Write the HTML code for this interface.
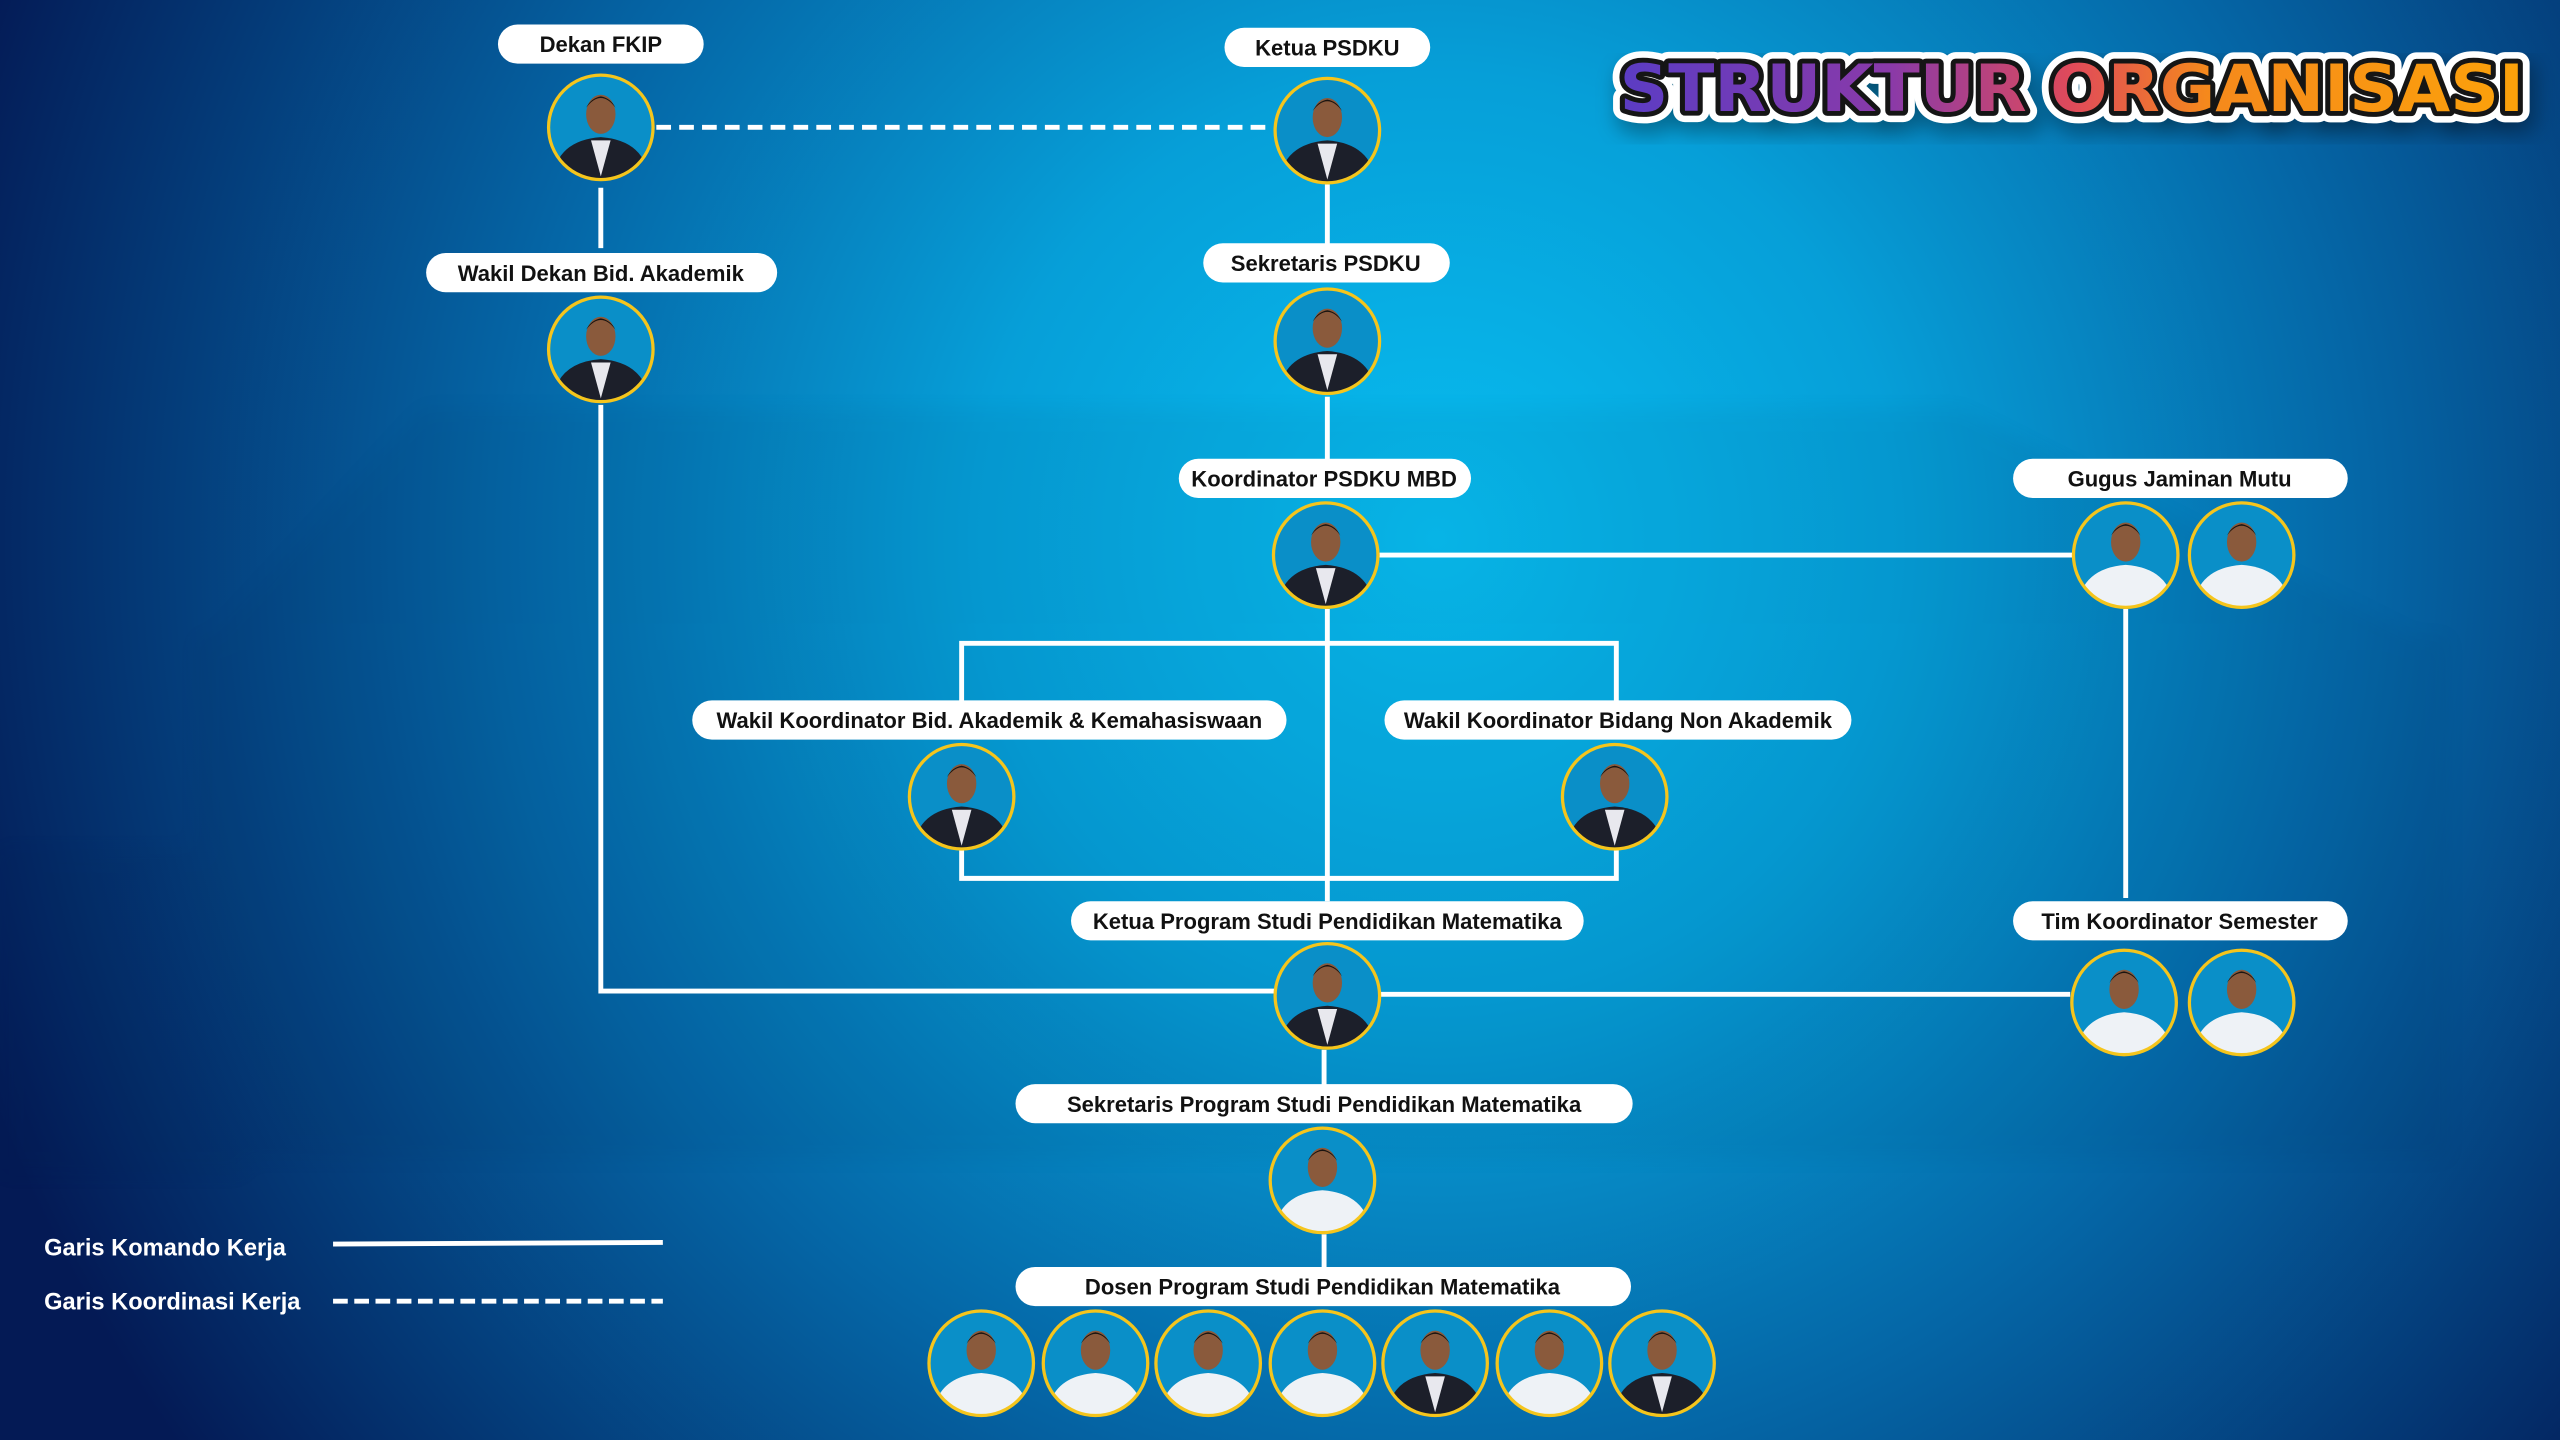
<!DOCTYPE html>
<html><head><meta charset="utf-8"><style>
html,body{margin:0;padding:0;background:#05305f;}
svg{display:block}
.lbl{font-family:"Liberation Sans",sans-serif;font-weight:700;font-size:13.5px;fill:#111;text-anchor:middle}
.leg{font-family:"Liberation Sans",sans-serif;font-weight:700;font-size:14.5px;fill:#fff}
</style></head><body>
<svg width="2560" height="1440" viewBox="0 0 1568 882" xmlns="http://www.w3.org/2000/svg">
<defs>
<radialGradient id="bg" cx="880" cy="330" r="950" gradientUnits="userSpaceOnUse">
<stop offset="0" stop-color="#08bdf0"/>
<stop offset="0.3" stop-color="#069fd8"/>
<stop offset="0.6" stop-color="#0566a6"/>
<stop offset="1" stop-color="#041a55"/>
</radialGradient>
<linearGradient id="tg" x1="0" x2="1" y1="0" y2="0">
<stop offset="0" stop-color="#5b3cc4"/>
<stop offset="0.3" stop-color="#8a3aa8"/>
<stop offset="0.5" stop-color="#e04a5a"/>
<stop offset="0.65" stop-color="#f5891c"/>
<stop offset="1" stop-color="#fca20a"/>
</linearGradient>
<filter id="blur"><feGaussianBlur stdDeviation="6"/></filter>
<clipPath id="cc"><circle cx="0" cy="0" r="32"/></clipPath>
<g id="p">
<g clip-path="url(#cc)">
<rect x="-33" y="-33" width="66" height="66" fill="#0a8fc8"/>
<path d="M-30 34 Q-28 8 0 6 Q28 8 30 34 Z" fill="#1c1f2a"/>
<path d="M-6 8 L0 30 L6 8 Z" fill="#e8e8ee"/>
<ellipse cx="0" cy="-8" rx="9" ry="12" fill="#8a5a3c"/>
<path d="M-9 -12 Q0 -24 9 -12 Q6 -18 0 -19 Q-6 -18 -9 -12Z" fill="#1a1410"/>
</g>
<circle cx="0" cy="0" r="32" fill="none" stroke="#f5c51c" stroke-width="2"/>
</g>
<g id="pw">
<g clip-path="url(#cc)">
<rect x="-33" y="-33" width="66" height="66" fill="#0a8fc8"/>
<path d="M-30 34 Q-28 8 0 6 Q28 8 30 34 Z" fill="#eef2f6"/>
<ellipse cx="0" cy="-8" rx="9" ry="12" fill="#8a5a3c"/>
<path d="M-9 -12 Q0 -24 9 -12 Q6 -18 0 -19 Q-6 -18 -9 -12Z" fill="#1a1410"/>
</g>
<circle cx="0" cy="0" r="32" fill="none" stroke="#f5c51c" stroke-width="2"/>
</g>
</defs>
<rect width="1568" height="882" fill="url(#bg)"/>
<!-- faint building -->
<g opacity="0.05" fill="#001a40" filter="url(#blur)">
<polygon points="130,390 260,250 1200,250 1480,390"/>
<rect x="120" y="390" width="1380" height="320"/>
<rect x="0" y="520" width="150" height="200"/>
</g>

<!-- lines -->
<g stroke="#fff" stroke-width="3" fill="none">
<line x1="402" y1="78" x2="779" y2="78" stroke-dasharray="9,5"/>
<line x1="368" y1="115" x2="368" y2="152"/>
<polyline points="368,248 368,607 781,607"/>
<line x1="813" y1="113" x2="813" y2="152"/>
<line x1="813" y1="243" x2="813" y2="284"/>
<line x1="845" y1="340" x2="1270" y2="340"/>
<line x1="1302" y1="373" x2="1302" y2="550"/>
<line x1="845" y1="609" x2="1268" y2="609"/>
<line x1="813" y1="373" x2="813" y2="552"/>
<polyline points="589,432 589,394 990,394 990,432"/>
<polyline points="589,520 589,538 990,538 990,520"/>
<line x1="811" y1="643" x2="811" y2="665"/>
<line x1="811" y1="756" x2="811" y2="778"/>
<line x1="204" y1="762" x2="406" y2="761"/>
<line x1="204" y1="797" x2="406" y2="797" stroke-dasharray="9,4"/>
</g>

<!-- labels -->
<g fill="#fff">
<rect x="305" y="15" width="126" height="24" rx="12"/>
<rect x="750" y="17" width="126" height="24" rx="12"/>
<rect x="261" y="155" width="215" height="24" rx="12"/>
<rect x="737" y="149" width="151" height="24" rx="12"/>
<rect x="722" y="281" width="179" height="24" rx="12"/>
<rect x="1233" y="281" width="205" height="24" rx="12"/>
<rect x="424" y="429" width="364" height="24" rx="12"/>
<rect x="848" y="429" width="286" height="24" rx="12"/>
<rect x="656" y="552" width="314" height="24" rx="12"/>
<rect x="1233" y="552" width="205" height="24" rx="12"/>
<rect x="622" y="664" width="378" height="24" rx="12"/>
<rect x="622" y="776" width="377" height="24" rx="12"/>
</g>
<text class="lbl" x="368" y="32">Dekan FKIP</text>
<text class="lbl" x="813" y="34">Ketua PSDKU</text>
<text class="lbl" x="368" y="172">Wakil Dekan Bid. Akademik</text>
<text class="lbl" x="812" y="166">Sekretaris PSDKU</text>
<text class="lbl" x="811" y="298">Koordinator PSDKU MBD</text>
<text class="lbl" x="1335" y="298">Gugus Jaminan Mutu</text>
<text class="lbl" x="606" y="446">Wakil Koordinator Bid. Akademik &amp; Kemahasiswaan</text>
<text class="lbl" x="991" y="446">Wakil Koordinator Bidang Non Akademik</text>
<text class="lbl" x="813" y="569">Ketua Program Studi Pendidikan Matematika</text>
<text class="lbl" x="1335" y="569">Tim Koordinator Semester</text>
<text class="lbl" x="811" y="681">Sekretaris Program Studi Pendidikan Matematika</text>
<text class="lbl" x="810" y="793">Dosen Program Studi Pendidikan Matematika</text>

<!-- photos -->
<use href="#p" x="368" y="78"/>
<use href="#p" x="813" y="80"/>
<use href="#p" x="368" y="214"/>
<use href="#p" x="813" y="209"/>
<use href="#p" x="812" y="340"/>
<use href="#pw" x="1302" y="340"/>
<use href="#pw" x="1373" y="340"/>
<use href="#p" x="589" y="488"/>
<use href="#p" x="989" y="488"/>
<use href="#p" x="813" y="610"/>
<use href="#pw" x="1301" y="614"/>
<use href="#pw" x="1373" y="614"/>
<use href="#pw" x="810" y="723"/>
<use href="#pw" x="601" y="835"/>
<use href="#pw" x="671" y="835"/>
<use href="#pw" x="740" y="835"/>
<use href="#pw" x="810" y="835"/>
<use href="#p" x="879" y="835"/>
<use href="#pw" x="949" y="835"/>
<use href="#p" x="1018" y="835"/>

<!-- legend -->
<text class="leg" x="27" y="769">Garis Komando Kerja</text>
<text class="leg" x="27" y="802">Garis Koordinasi Kerja</text>

<!-- title -->
<g font-family="'DejaVu Sans',sans-serif" font-weight="900" font-size="40">
<text x="992" y="68" textLength="554" lengthAdjust="spacingAndGlyphs" fill="none" stroke="#000" stroke-opacity="0.3" stroke-width="16" stroke-linejoin="round" transform="translate(3,6)" filter="url(#blur)">STRUKTUR ORGANISASI</text>
<text x="992" y="68" textLength="554" lengthAdjust="spacingAndGlyphs" fill="none" stroke="#fff" stroke-width="14" stroke-linejoin="round">STRUKTUR ORGANISASI</text>
<text x="992" y="68" textLength="554" lengthAdjust="spacingAndGlyphs" fill="none" stroke="#151515" stroke-width="6" stroke-linejoin="round">STRUKTUR ORGANISASI</text>
<text x="992" y="68" textLength="554" lengthAdjust="spacingAndGlyphs" fill="url(#tg)">STRUKTUR ORGANISASI</text>
</g>
</svg>
</body></html>
